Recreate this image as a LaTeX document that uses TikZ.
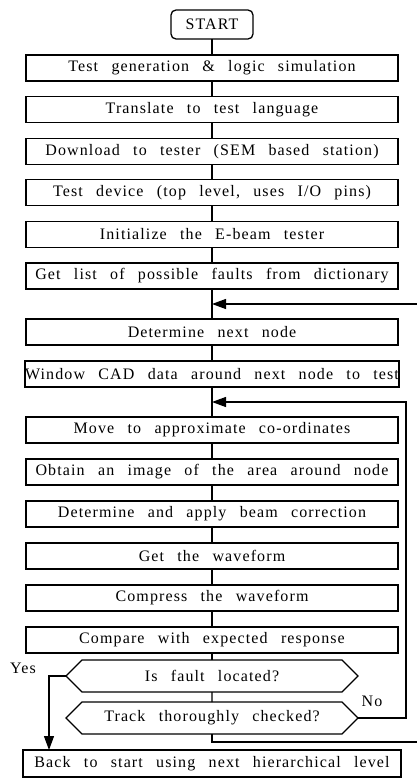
\documentclass[tikz,border=0pt]{standalone}
\usepackage{fontspec}
\setmainfont[WordSpace=2.6, LetterSpace=7]{Liberation Serif}
\usetikzlibrary{positioning,arrows.meta,shapes.symbols}

\newcommand{\letra}{\fontsize{16}{18}\selectfont}

\begin{document}
\begin{tikzpicture}[x=1pt, y=-1pt, outer sep=0pt,
  paso/.style={draw, line width=1.3pt, minimum width=372pt, minimum height=26pt, inner sep=0pt, font=\letra},
  pregunta/.style={draw, line width=1.3pt, signal, signal to=east and west, signal pointer angle=90, minimum width=292pt, minimum height=32pt, inner sep=0pt, font=\letra},
  flecha/.style={-{Triangle[length=14pt, width=10pt]}, line width=1.2pt},
  linea/.style={line width=1.2pt}]
\useasboundingbox (0,0) rectangle (417,779);
\node[draw, line width=1.3pt, rounded corners=5pt, minimum width=82pt, minimum height=29pt, inner sep=0pt, font=\letra] (inicio) at (212,24.5) {START};
\node[paso, below=16pt of inicio] (gen) {Test generation \& logic simulation};
\node[paso, below=15.6pt of gen] (trad) {Translate to test language};
\node[paso, below=15.6pt of trad] (carga) {Download to tester (SEM based station)};
\node[paso, below=15.6pt of carga] (disp) {Test device (top level, uses I/O pins)};
\node[paso, below=15.6pt of disp] (ebeam) {Initialize the E-beam tester};
\node[paso, below=15.6pt of ebeam] (lista) {Get list of possible faults from dictionary};
\node[paso, below=30pt of lista] (nodo) {Determine next node};
\node[paso, below=16pt of nodo] (ventana) {Window CAD data around next node to test};
\node[paso, below=30pt of ventana] (mover) {Move to approximate co-ordinates};
\node[paso, below=16pt of mover] (imagen) {Obtain an image of the area around node};
\node[paso, below=16pt of imagen] (correc) {Determine and apply beam correction};
\node[paso, below=16pt of correc] (onda) {Get the waveform};
\node[paso, below=16pt of onda] (comprime) {Compress the waveform};
\node[paso, below=16pt of comprime] (compara) {Compare with expected response};
\node[pregunta, below=7pt of compara] (falla) {Is fault located?};
\node[pregunta, below=10pt of falla] (pista) {Track thoroughly checked?};
\node[paso, minimum width=378pt, minimum height=27pt, below=16pt of pista] (vuelta) {Back to start using next hierarchical level};
\node[font=\letra] (si) at (23,668) {Yes};
\node[font=\letra] (no) at (372,701) {No};
% tronco principal
\foreach \a/\b in {inicio/gen, gen/trad, trad/carga, carga/disp, disp/ebeam, ebeam/lista, lista/nodo, nodo/ventana, ventana/mover, mover/imagen, imagen/correc, correc/onda, onda/comprime, comprime/compara, compara/falla, falla/pista}
  \draw[linea] (\a) -- (\b);
% lazos de retorno
\coordinate (retA) at (417,304);
\coordinate (retB) at (406,402);
\coordinate (retC) at (417,742);
\draw[flecha] (retA) -- (retA -| nodo);
\draw[flecha] (pista.east) -| (retB) -- (retB -| mover);
\draw[linea] (pista.south) |- (retC);
\draw[flecha] (falla.west) -- ++(-17,0) coordinate (codo) -- (codo |- vuelta.north);
\end{tikzpicture}
\end{document}
